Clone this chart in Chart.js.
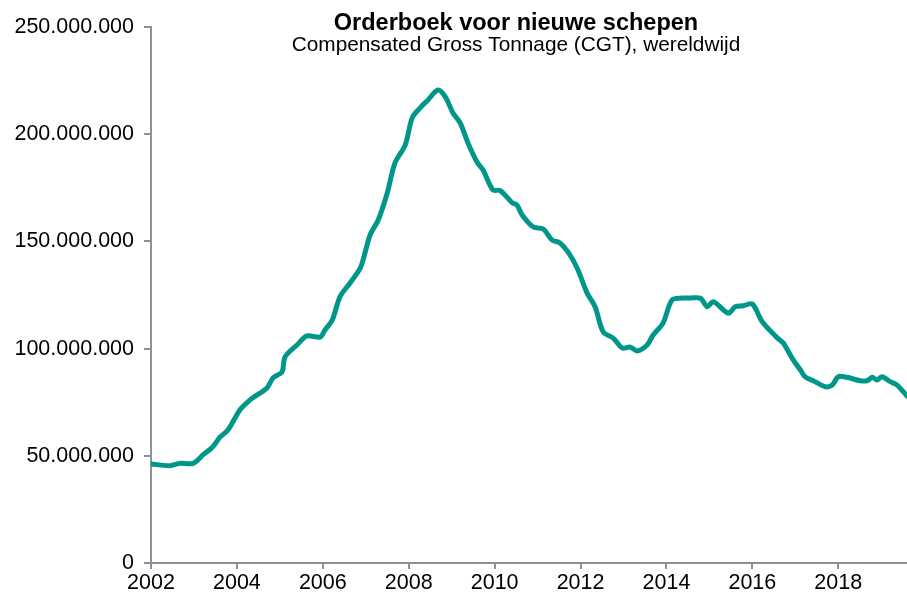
<!DOCTYPE html>
<html>
<head>
<meta charset="utf-8">
<script src="https://cdn.jsdelivr.net/npm/chart.js@4/dist/chart.umd.min.js"></script>
<style>
  html, body { margin: 0; padding: 0; background: #fff; }
  #wrap { width: 907px; height: 598px; }
</style>
</head>
<body>
<div id="wrap"><canvas id="chart" width="907" height="598"></canvas></div>
<script>
// data (CGT in miljoenen)
const years = [
  2002.00, 2002.44, 2002.68, 2002.98, 2003.21, 2003.44, 2003.61, 2003.79,
  2004.07, 2004.30, 2004.47, 2004.70, 2004.84, 2005.05, 2005.12, 2005.40,
  2005.63, 2005.94, 2006.05, 2006.22, 2006.40, 2006.63, 2006.87, 2006.98,
  2007.10, 2007.29, 2007.50, 2007.68, 2007.92, 2008.08, 2008.26, 2008.45,
  2008.68, 2008.85, 2009.03, 2009.20, 2009.38, 2009.59, 2009.73, 2009.96,
  2010.13, 2010.41, 2010.52, 2010.64, 2010.90, 2011.13, 2011.34, 2011.52,
  2011.71, 2011.92, 2012.15, 2012.34, 2012.53, 2012.76, 2012.97, 2013.16,
  2013.32, 2013.55, 2013.69, 2013.92, 2014.13, 2014.37, 2014.55, 2014.79,
  2014.95, 2015.09, 2015.44, 2015.60, 2015.79, 2016.00, 2016.23, 2016.58,
  2016.72, 2016.95, 2017.12, 2017.23, 2017.42, 2017.70, 2017.86, 2018.00,
  2018.20, 2018.51, 2018.67, 2018.79, 2018.90, 2019.02, 2019.21, 2019.37,
  2019.60
]
const cgtMln = [
  46.2, 45.4, 46.5, 46.5, 50.4, 54.2, 58.8, 62.0,
  71.4, 76.0, 78.4, 81.6, 86.3, 89.1, 96.1, 101.7,
  105.9, 105.4, 108.7, 113.3, 124.2, 130.5, 137.5, 144.5,
  153.0, 160.0, 172.6, 186.6, 195.0, 207.6, 212.2, 216.0,
  220.6, 217.5, 209.9, 205.2, 195.9, 187.0, 183.3, 174.0,
  173.7, 168.0, 167.0, 162.3, 156.7, 155.8, 150.6, 149.3,
  145.0, 137.6, 126.0, 119.4, 107.7, 104.9, 100.3, 100.7,
  98.9, 101.7, 106.3, 111.9, 122.7, 123.6, 123.6, 123.5,
  119.5, 121.9, 116.5, 119.5, 120.0, 120.8, 112.5, 105.0,
  102.6, 94.7, 90.0, 86.8, 85.0, 82.2, 83.0, 86.9,
  86.6, 85.0, 85.0, 86.6, 85.4, 86.9, 84.6, 83.0,
  77.9
]
const xTicks = [2002, 2004, 2006, 2008, 2010, 2012, 2014, 2016, 2018]
const yTicks = [0, 50000000, 100000000, 150000000, 200000000, 250000000]

const title = 'Orderboek voor nieuwe schepen'
const subtitle = 'Compensated Gross Tonnage (CGT), wereldwijd'

// helpers
const dots = (v) => String(Math.round(v)).replace(/\B(?=(\d{3})+(?!\d))/g, '.')
const axisColor = '#8a939b'
const font = { family: "'Liberation Sans', Arial, sans-serif", size: 21.5 }

const titlePlugin = {
  id: 'titles',
  afterDraw(chart) {
    const ctx = chart.ctx
    ctx.save()
    ctx.fillStyle = '#000'
    ctx.textAlign = 'center'
    ctx.textBaseline = 'alphabetic'
    ctx.font = "bold 23.5px 'Liberation Sans', Arial, sans-serif"
    ctx.fillText(title, 516, 30)
    ctx.font = "20.8px 'Liberation Sans', Arial, sans-serif"
    ctx.fillText(subtitle, 516, 51)
    ctx.restore()
  }
}

const points = years.map((y, i) => ({ x: y, y: cgtMln[i] * 1000000 }))

new Chart(document.getElementById('chart'), {
  type: 'line',
  data: {
    datasets: [{
      data: points,
      borderColor: '#00978a',
      borderWidth: 5,
      pointRadius: 0,
      tension: 0.3,
      borderJoinStyle: 'round',
      borderCapStyle: 'round',
      fill: false,
    }]
  },
  options: {
    responsive: false,
    animation: false,
    layout: { padding: { top: 27, right: 0, left: 0, bottom: 0 } },
    plugins: {
      legend: { display: false },
      tooltip: { enabled: false },
    },
    scales: {
      x: {
        type: 'linear',
        min: 2002,
        max: 2019.6,
        afterBuildTicks: (scale) => { scale.ticks = xTicks.map(v => ({ value: v })) },
        afterFit: (scale) => { scale.height = 35 },
        ticks: { color: '#000', font, padding: 1, maxRotation: 0, callback: (v) => String(v) },
        grid: { drawOnChartArea: false, drawTicks: true, tickLength: 6, color: axisColor, lineWidth: 2 },
        border: { display: true, color: axisColor, width: 2 },
      },
      y: {
        min: 0,
        max: 250000000,
        afterBuildTicks: (scale) => { scale.ticks = yTicks.map(v => ({ value: v })) },
        afterFit: (scale) => { scale.width = 151 },
        ticks: { color: '#000', font, padding: 10, callback: (v) => dots(v) },
        grid: { drawOnChartArea: false, drawTicks: true, tickLength: 7, color: axisColor, lineWidth: 2 },
        border: { display: true, color: axisColor, width: 2 },
      },
    },
  },
  plugins: [titlePlugin],
})
</script>
</body>
</html>
